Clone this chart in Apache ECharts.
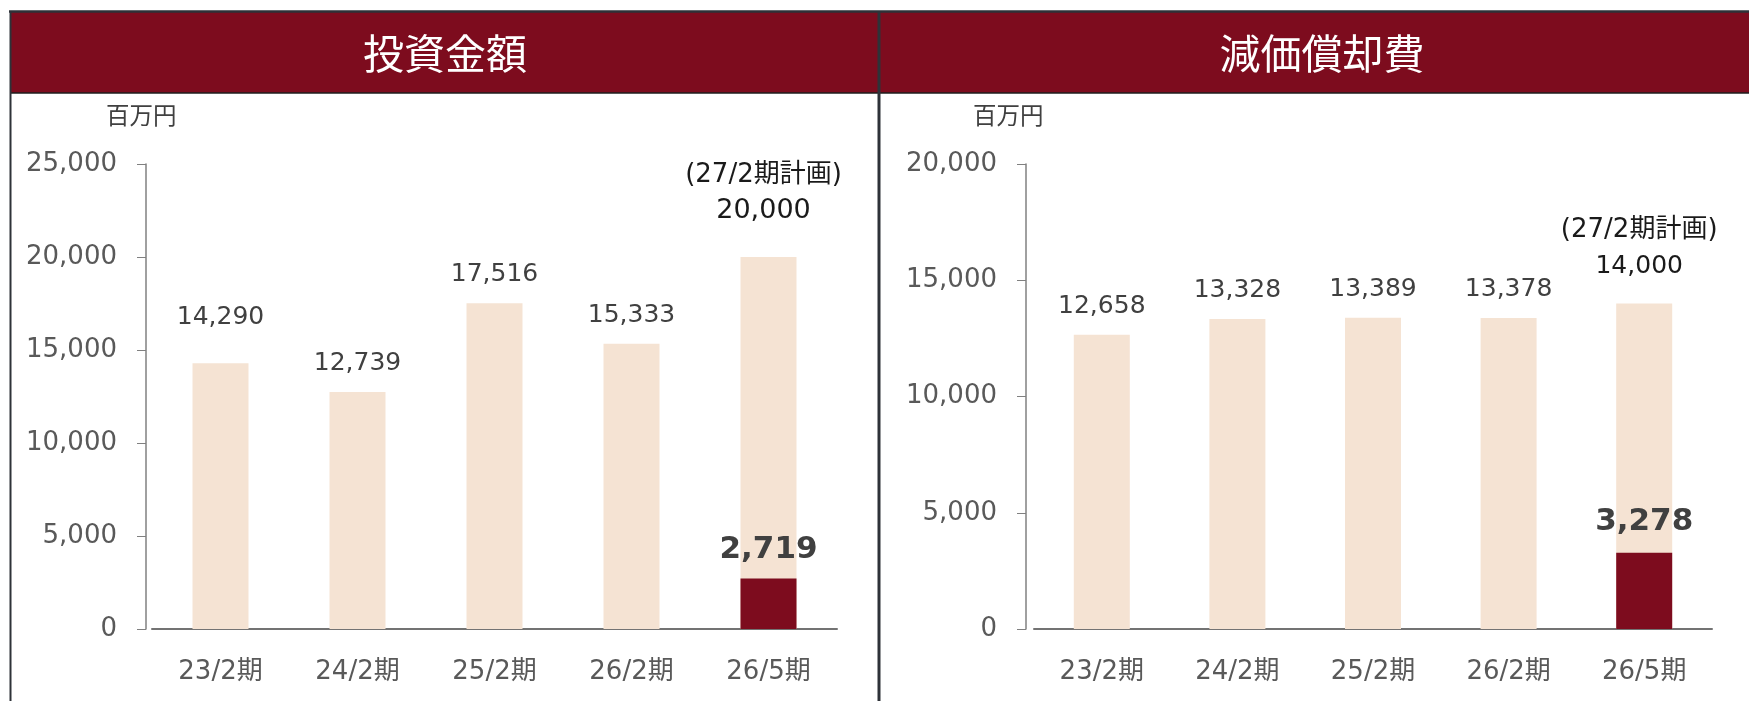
<!DOCTYPE html>
<html>
<head>
<meta charset="utf-8">
<script src="https://cdn.jsdelivr.net/npm/echarts@6/dist/echarts.min.js"></script>
<style>
html,body{margin:0;padding:0;background:#fff;}
#main{width:1749px;height:701px;}
</style>
</head>
<body>
<div id="main"></div>
<script>
// chart data
var categories = ['23/2期', '24/2期', '25/2期', '26/2期', '26/5期'];
var investValues = [14290, 12739, 17516, 15333, 20000];
var investActual = [null, null, null, null, 2719];
var deprValues = [12658, 13328, 13389, 13378, 14000];
var deprActual = [null, null, null, null, 3278];
var investTicks = [0, 25000, 5000];   // min, max, interval
var deprTicks = [0, 20000, 5000];
var panelTitles = ['投資金額', '減価償却費'];
var unitLabel = '百万円';
var planNote = '(27/2期計画)';

var DARK = '#7d0c1e';
var LIGHT = '#f5e3d3';
var TEXT = '#404040';
var AXIS = '#595959';
var FONT = '"DejaVu Sans", "Noto Sans CJK JP", sans-serif';
var CJK = '"Noto Sans CJK JP", sans-serif';

function fmt(v) {
	return String(v).replace(/\B(?=(\d{3})+(?!\d))/g, ',');
}

// light bars (plan / results); last one carries the plan note
function lightData(vals, firstDist, planDist, planSize) {
	var last = vals.length - 1;
	return vals.map(function (v, i) {
		var item = { value: v };
		if (i === 0 && firstDist) item.label = { distance: firstDist };
		if (i === last) {
			item.label = {
				distance: planDist,
				offset: [-5, 0],
				formatter: '{p|' + planNote + '}\n{v|' + fmt(v) + '}',
				rich: {
					p: { fontSize: 26, color: '#1a1a1a', fontFamily: FONT, lineHeight: 42 },
					v: { fontSize: planSize, color: '#1a1a1a', fontFamily: FONT, lineHeight: 30 }
				}
			};
		}
		return item;
	});
}

function grid(left, right) {
	return { left: left, right: right, top: 164, bottom: 72 };
}

function xAxis(idx) {
	return {
		type: 'category', gridIndex: idx, data: categories,
		axisLine: { lineStyle: { color: '#737373', width: 2 } },
		axisTick: { show: false },
		axisLabel: { color: AXIS, fontSize: 26, fontFamily: FONT, margin: 30 }
	};
}

function yAxis(idx, ticks, off) {
	return {
		type: 'value', gridIndex: idx, min: ticks[0], max: ticks[1], interval: ticks[2],
		offset: off,
		axisLine: { show: true, lineStyle: { color: '#808080', width: 1.5 } },
		axisTick: { show: true, length: 9, lineStyle: { color: '#808080' } },
		splitLine: { show: false },
		axisLabel: { color: AXIS, fontSize: 26, fontFamily: FONT, margin: 29, formatter: fmt }
	};
}

function bars(idx, vals, actual, firstDist, planDist, planSize, actDist) {
	return [{
		type: 'bar', xAxisIndex: idx, yAxisIndex: idx, barWidth: 56, barGap: '-100%',
		itemStyle: { color: LIGHT },
		label: { show: true, position: 'top', distance: 16, color: TEXT, fontSize: 25, fontFamily: FONT, formatter: function (p) { return fmt(p.value); } },
		data: lightData(vals, firstDist, planDist, planSize)
	}, {
		type: 'bar', xAxisIndex: idx, yAxisIndex: idx, barWidth: 56, barGap: '-100%',
		itemStyle: { color: DARK },
		label: { show: true, position: 'top', distance: actDist, color: TEXT, fontSize: 31, fontWeight: 'bold', fontFamily: FONT, formatter: function (p) { return fmt(p.value); } },
		data: actual
	}];
}

var chart = echarts.init(document.getElementById('main'));
chart.setOption({
	animation: false,
	backgroundColor: '#fff',
	grid: [grid(152, 912), grid(1034, 37)],
	xAxis: [xAxis(0), xAxis(1)],
	yAxis: [yAxis(0, investTicks, 6), yAxis(1, deprTicks, 8)],
	series: bars(0, investValues, investActual, 33, 31, 27, 13).concat(bars(1, deprValues, deprActual, 0, 22, 25, 15)),
	graphic: [
		{ type: 'rect', shape: { x: 11, y: 12, width: 867, height: 81 }, style: { fill: DARK } },
		{ type: 'rect', shape: { x: 880, y: 12, width: 880, height: 81 }, style: { fill: DARK } },
		{ type: 'line', shape: { x1: 9, y1: 11.5, x2: 1749, y2: 11.5 }, style: { stroke: '#2e3238', lineWidth: 2.5 } },
		{ type: 'line', shape: { x1: 10, y1: 93, x2: 1749, y2: 93 }, style: { stroke: '#1e1e1e', lineWidth: 1.5 } },
		{ type: 'line', shape: { x1: 10.5, y1: 11, x2: 10.5, y2: 701 }, style: { stroke: '#2e3238', lineWidth: 2 } },
		{ type: 'line', shape: { x1: 879, y1: 11, x2: 879, y2: 701 }, style: { stroke: '#2e3238', lineWidth: 3 } },
		{ type: 'text', x: 445, y: 53, style: { text: panelTitles[0], fill: '#fff', fontSize: 41, fontFamily: CJK, align: 'center', verticalAlign: 'middle' } },
		{ type: 'text', x: 1322, y: 53, style: { text: panelTitles[1], fill: '#fff', fontSize: 41, fontFamily: CJK, align: 'center', verticalAlign: 'middle' } },
		{ type: 'text', x: 106, y: 115, style: { text: unitLabel, fill: TEXT, fontSize: 23.5, fontFamily: CJK, verticalAlign: 'middle' } },
		{ type: 'text', x: 973, y: 115, style: { text: unitLabel, fill: TEXT, fontSize: 23.5, fontFamily: CJK, verticalAlign: 'middle' } }
	]
});
</script>
</body>
</html>
